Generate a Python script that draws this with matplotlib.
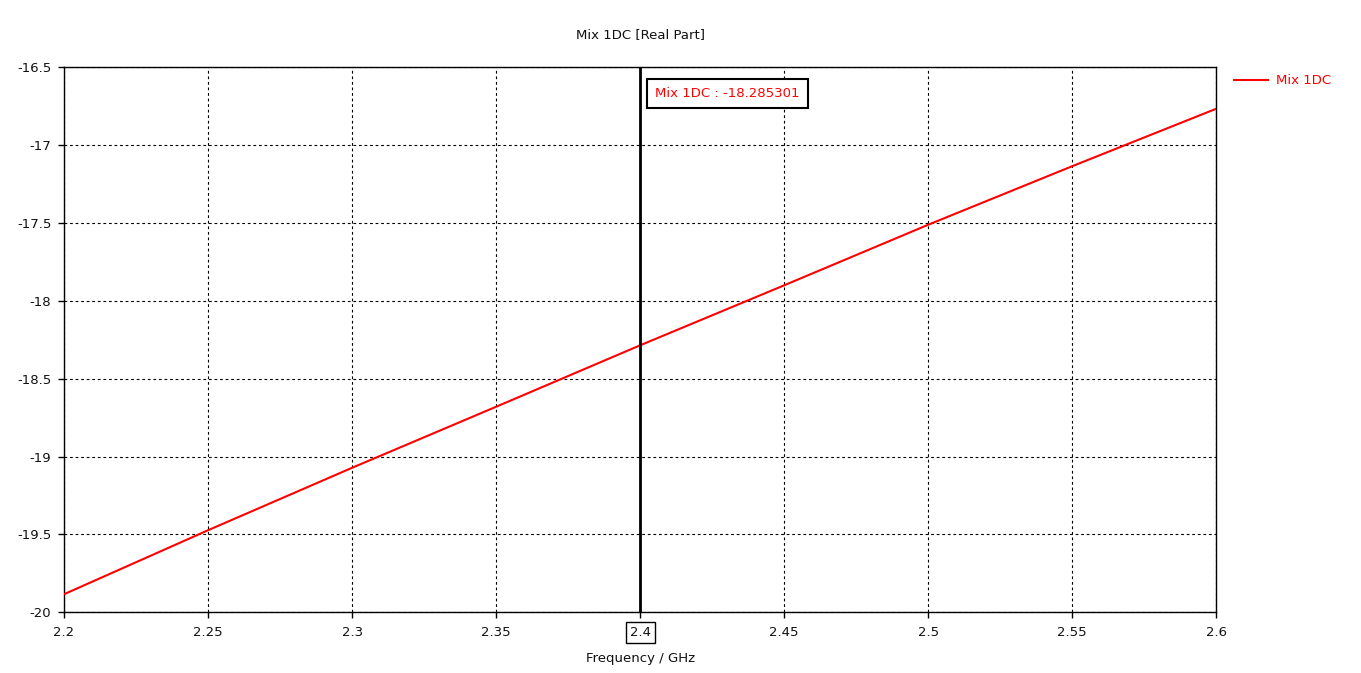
import matplotlib
matplotlib.use("Agg")
import matplotlib.pyplot as plt
from matplotlib.ticker import FuncFormatter

freq = [2.2, 2.25, 2.3, 2.35, 2.4, 2.45, 2.5, 2.55, 2.6]
real_part = [-19.884, -19.473, -19.072, -18.680, -18.285301, -17.900, -17.511, -17.135, -16.766]
marker_x = 2.4
marker_val = -18.285301
xticks = [2.2, 2.25, 2.3, 2.35, 2.4, 2.45, 2.5, 2.55, 2.6]
yticks = [-20, -19.5, -19, -18.5, -18, -17.5, -17, -16.5]

plt.rcParams['font.family'] = ['DejaVu Sans']
fig = plt.figure(figsize=(13.61, 6.73), dpi=100)
ax = fig.add_axes([64/1361, (673-612.3)/673, 1152.3/1361, 545/673])

ax.plot(freq, real_part, color='#ff0000', lw=1.5, zorder=3)
ax.set_xlim(2.2, 2.6)
ax.set_ylim(-20, -16.5)
ax.set_xticks(xticks)
ax.set_yticks(yticks)
fmt = FuncFormatter(lambda v, p: f"{v:g}")
ax.xaxis.set_major_formatter(fmt)
ax.yaxis.set_major_formatter(fmt)
ax.tick_params(axis='x', direction='out', length=4, width=1, labelsize=9.5, colors='black', labelcolor='#111111', pad=6)
ax.tick_params(axis='y', direction='out', length=4, width=1, labelsize=9.5, colors='black', labelcolor='#111111', pad=5)
ax.grid(True, color='black', linestyle=(0, (2.5, 2.5)), linewidth=0.8)
for s in ax.spines.values():
    s.set_linewidth(1)

# marker line
ax.axvline(marker_x, color='black', lw=2, zorder=4)
ax.annotate(f"Mix 1DC : {marker_val:.6f}", xy=(marker_x, -16.5), xycoords='data',
            xytext=(11, -19), textcoords='offset points', color='#ff0000', fontsize=9.5,
            ha='left', va='center',
            bbox=dict(boxstyle='square,pad=0.62', fc='white', ec='black', lw=1.5), zorder=5)

# boxed tick label at marker
for lbl in ax.get_xticklabels():
    if lbl.get_text() == '2.4':
        lbl.set_bbox(dict(boxstyle='square,pad=0.3', fc='white', ec='black', lw=1))

ax.set_title("Mix 1DC [Real Part]", fontsize=9.5, pad=21, color='#111111')
ax.set_xlabel("Frequency / GHz", fontsize=9.5, labelpad=9, color='#111111')

leg = ax.legend(["Mix 1DC"], loc='center left', bbox_to_anchor=(1234/1361, 1-81/673),
                bbox_transform=fig.transFigure, frameon=False, borderpad=0, borderaxespad=0,
                fontsize=9.5, handlelength=2.6, handletextpad=0.6)
for t in leg.get_texts():
    t.set_color('#ff0000')

fig.savefig("out.png", dpi=100)
